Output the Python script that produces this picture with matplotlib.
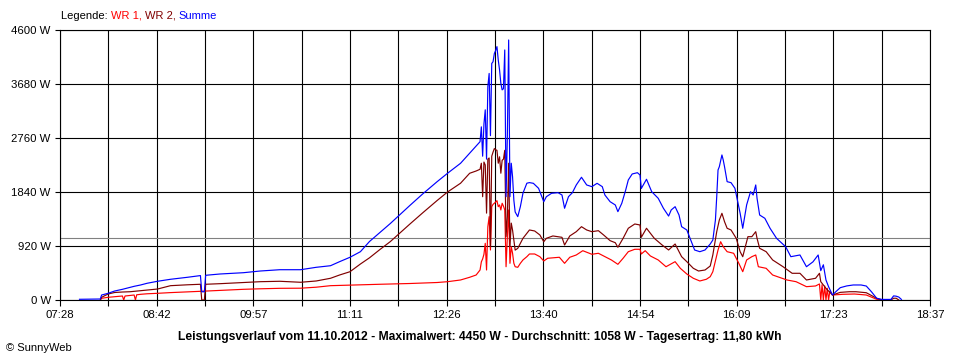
import matplotlib
matplotlib.use("Agg")
import matplotlib.pyplot as plt

plt.rcParams['font.family'] = ['Liberation Sans', 'DejaVu Sans']

# ---------------- data (times in minutes after midnight, power in W) ----------------
t_sum = [463, 479, 480, 485, 490, 496, 502, 505, 510, 515, 523, 533, 546, 556, 557, 559, 560,
         571, 589, 602, 617, 633, 645, 656, 663, 671, 679, 686, 694, 702, 708, 717, 727, 738,
         746, 756, 763, 768, 771, 772, 773, 774, 775, 776, 777, 778, 779, 780, 781, 782, 783,
         784, 785, 786, 787, 788, 789, 790, 791, 792, 793, 794, 795, 796, 797, 798, 800, 802,
         804, 807, 809, 812, 816, 820, 822, 826, 831, 834, 836, 839, 842, 845, 849, 853, 857,
         861, 865, 867, 871, 875, 877, 880, 883, 885, 888, 892, 894, 895, 899, 903, 908, 912,
         916, 918, 921, 924, 926, 930, 933, 936, 940, 944, 948, 950, 952, 953, 954, 955, 957,
         958, 959, 961, 964, 967, 970, 971, 973, 976, 979, 981, 983, 984, 986, 990, 994, 999,
         1006, 1010, 1017, 1022, 1027, 1031, 1033, 1035, 1037, 1039, 1042, 1045, 1048, 1053,
         1058, 1064, 1068, 1072, 1076, 1080, 1087, 1089, 1091, 1093, 1095]
p_sum = [12, 17, 85, 114, 153, 182, 216, 233, 256, 285, 319, 353, 387, 416, 140, 140, 421,
         443, 465, 494, 516, 516, 557, 584, 653, 728, 823, 997, 1150, 1303, 1426, 1610, 1809, 2016,
         2159, 2329, 2500, 2624, 2697, 2950, 2450, 3000, 3240, 2400, 3635, 3860, 2800, 4030, 4060, 4200, 4250,
         4317, 4090, 3920, 3690, 3580, 3600, 4260, 1760, 2800, 4430, 1760, 2330, 2100, 1700, 1500, 1420, 1590,
         1820, 1990, 2000, 1988, 1903, 1675, 1760, 1818, 1828, 1789, 1563, 1760, 1828, 1960, 2091, 1960, 1931,
         1988, 1931, 1789, 1675, 1619, 1505, 1648, 1874, 2045, 2147, 2169, 2130, 1900, 2057, 1845, 1733, 1563,
         1430, 1534, 1590, 1448, 1249, 1193, 1022, 852, 823, 852, 954, 1022, 1363, 1760, 2215, 2271, 2471,
         2385, 2271, 2016, 1999, 1903, 1590, 1477, 1222, 1620, 1845, 1789, 1960, 1733, 1448, 1392, 1222, 1051,
         908, 738, 767, 567, 650, 767, 500, 600, 341, 227, 85, 150, 210, 240,
         256, 256, 238, 140, 29, 10, 10, 70, 65, 50, 10]

t_wr2 = [479, 480, 485, 490, 496, 502, 510, 515, 523, 533, 546, 556, 557, 559, 560, 571, 589,
         602, 617, 633, 645, 656, 663, 671, 679, 686, 694, 702, 708, 717, 727, 738, 746, 756,
         763, 768, 771, 772, 773, 774, 775, 776, 777, 778, 779, 780, 781, 782, 783, 784, 785,
         786, 787, 788, 789, 790, 791, 792, 793, 794, 795, 796, 797, 798, 800, 802, 804, 807,
         809, 813, 817, 820, 822, 827, 834, 836, 840, 845, 849, 853, 857, 862, 866, 871, 875,
         877, 881, 885, 890, 894, 895, 899, 902, 905, 911, 916, 921, 926, 930, 935, 939, 944,
         948, 950, 953, 955, 957, 959, 961, 964, 968, 971, 973, 977, 980, 983, 984, 986, 991,
         996, 1004, 1011, 1017, 1022, 1029, 1032, 1033, 1037, 1042, 1048, 1055, 1060, 1068,
         1076, 1080, 1087, 1089, 1091, 1093]
p_wr2 = [0, 46, 102, 128, 136, 141, 158, 170, 187, 244, 259, 268, 0, 0, 268, 278, 298,
         312, 319, 302, 324, 370, 426, 482, 613, 719, 860, 995, 1114, 1293, 1487, 1695, 1840, 1989,
         2159, 2198, 2227, 2330, 1760, 2350, 2300, 1480, 2400, 2420, 910, 2450, 2520, 2580, 2560, 2550, 2330,
         2440, 2160, 2380, 2400, 2550, 1080, 1420, 2330, 910, 1310, 1190, 1020, 850, 880, 966, 1051, 1136,
         1193, 1176, 1108, 993, 1051, 1091, 1068, 937, 1091, 1164, 1249, 1193, 1164, 1181, 1108, 1011, 976,
         898, 1051, 1222, 1295, 1278, 1068, 1222, 1136, 1051, 937, 852, 954, 738, 653, 540, 494, 511,
         579, 767, 1164, 1363, 1477, 1334, 1222, 1193, 1051, 823, 738, 1079, 1079, 1164, 1051, 881, 823,
         682, 567, 455, 455, 341, 370, 455, 312, 199, 85, 130, 141, 141, 124,
         29, 0, 0, 30, 30, 0]

t_wr1 = [479, 480, 485, 490, 496, 497, 498, 502, 505, 506, 507, 510, 515, 523, 533, 546, 556,
         571, 589, 602, 617, 633, 645, 656, 671, 694, 717, 738, 746, 756, 763, 768, 771, 772,
         773, 774, 775, 776, 777, 778, 779, 780, 781, 782, 783, 784, 785, 786, 787, 788, 789,
         790, 791, 792, 793, 794, 795, 796, 797, 798, 800, 802, 804, 807, 809, 813, 817, 820,
         823, 832, 836, 840, 845, 850, 857, 862, 867, 872, 877, 881, 885, 890, 894, 895, 898,
         902, 908, 914, 921, 925, 930, 935, 940, 945, 948, 950, 954, 956, 958, 961, 966, 970,
         973, 976, 980, 983, 985, 991, 996, 1007, 1014, 1022, 1029, 1032, 1033, 1034, 1035,
         1036, 1037, 1038, 1039, 1040, 1042, 1050, 1059, 1068, 1076, 1080]
p_wr1 = [0, 29, 46, 56, 68, 0, 68, 77, 85, 0, 89, 97, 106, 114, 126, 138, 148,
         164, 182, 191, 199, 201, 218, 244, 254, 268, 281, 298, 312, 341, 387, 426, 511, 650,
         700, 780, 966, 511, 1249, 1420, 852, 1590, 1630, 1648, 1670, 1692, 1590, 1620, 1534, 1648, 1600,
         1534, 567, 1078, 1534, 625, 908, 796, 625, 567, 557, 625, 682, 738, 784, 784, 738, 665,
         711, 728, 625, 728, 767, 840, 779, 796, 738, 682, 608, 711, 823, 864, 864, 784, 840,
         750, 682, 567, 653, 540, 443, 370, 324, 353, 397, 482, 852, 993, 908, 823, 796, 625,
         482, 682, 738, 767, 567, 540, 426, 341, 312, 227, 239, 273, 0, 260, 0,
         240, 0, 200, 0, 150, 85, 97, 102, 85, 12, 0]

average_w = 1058
y_ticks = [0, 920, 1840, 2760, 3680, 4600]
y_labels = ["0 W", "920 W", "1840 W", "2760 W", "3680 W", "4600 W"]
x_start, x_end = 448, 1117          # 07:28 .. 18:37
x_labels = ["07:28", "08:42", "09:57", "11:11", "12:26", "13:40", "14:54", "16:09", "17:23", "18:37"]
n_grid = 18

title_text = ("Leistungsverlauf vom 11.10.2012 - Maximalwert: 4450 W - "
              "Durchschnitt: 1058 W - Tagesertrag: 11,80 kWh")
legend_parts = [("Legende: ", "black"), ("WR 1, ", "#ff0000"), ("WR 2, ", "#800000"), ("Summe", "#0000ff")]

# ---------------- figure ----------------
W, H = 960, 360
fig = plt.figure(figsize=(W / 100, H / 100), dpi=100)
fig.patch.set_facecolor("white")
ax = fig.add_axes([60 / W, 1 - 300 / H, 870 / W, 270 / H])
ax.set_xlim(x_start, x_end)
ax.set_ylim(0, 4600)

step = (x_end - x_start) / n_grid
major = [x_start + 2 * k * step for k in range(len(x_labels))]
minor = [x_start + (2 * k + 1) * step for k in range(n_grid // 2)]
ax.set_xticks(major)
ax.set_xticklabels(x_labels)
ax.set_xticks(minor, minor=True)
ax.set_yticks(y_ticks)
ax.set_yticklabels(y_labels)

ax.tick_params(axis="both", which="both", direction="out", length=4.3, width=0.8,
               color="black", labelsize=8.2, labelcolor="black")
ax.tick_params(axis="x", which="both", pad=3)
ax.tick_params(axis="y", which="both", length=3.6, pad=3)

for v in major + minor:
    ax.axvline(v, color="black", lw=0.8, zorder=1)
for v in y_ticks:
    ax.axhline(v, color="black", lw=0.8, zorder=1)
ax.axhline(average_w, color="#808080", lw=0.8, zorder=1)

for s in ax.spines.values():
    s.set_color("black")
    s.set_linewidth(0.8)

ax.plot(t_wr1, p_wr1, color="#ff0000", lw=0.85, zorder=3)
ax.plot(t_wr2, p_wr2, color="#800000", lw=0.85, zorder=4)
ax.plot(t_sum, p_sum, color="#0000ff", lw=0.85, zorder=5)

# legend as coloured text pieces
fig.canvas.draw()
renderer = fig.canvas.get_renderer()
xpix = 61
for txt, col in legend_parts:
    t = fig.text(xpix / W, 1 - 16 / H, txt, color=col, fontsize=8, va="center", ha="left")
    bb = t.get_window_extent(renderer=renderer)
    xpix += bb.width

fig.text(480 / W, 1 - 337 / H, title_text, fontsize=8.7, fontweight="bold",
         ha="center", va="center", color="black")
fig.text(6 / W, 1 - 348 / H, "© SunnyWeb", fontsize=8, ha="left", va="center", color="black")

fig.savefig("out.png", dpi=100, facecolor="white")
